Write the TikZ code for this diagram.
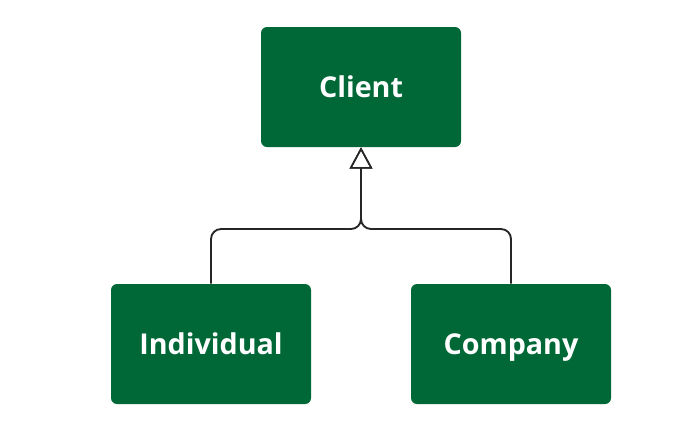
\documentclass[tikz,border=0pt]{standalone}
\usepackage{fontspec}
\setmainfont{Open Sans}
\usetikzlibrary{arrows.meta}
\definecolor{classgreen}{HTML}{006837}

\tikzset{
  classbox/.style={fill=classgreen, rounded corners=4.5pt, minimum width=150pt,
    minimum height=90pt, inner sep=0pt, text=white, text height=19pt,
    text depth=4pt, font=\fontsize{21.5}{24}\selectfont\bfseries},
  inherit/.style={draw=black!85, line width=1.4pt, rounded corners=7.5pt,
    -{Triangle[open, width=17pt, length=16pt, line width=1.2pt]}}
}

\begin{document}
\begin{tikzpicture}[x=0.75pt, y=-0.75pt]
  \useasboundingbox (0, 0) rectangle (682, 447);

  \node [classbox] (client) at (361, 87) {Client};
  \node [classbox] (individual) at (211, 344) {Individual};
  \node [classbox] (company) at (511, 344) {Company};

  \coordinate (join) at (361, 229);

  \draw [inherit] (individual.north) |- (join) -- (client.south);
  \draw [inherit] (company.north) |- (join) -- (client.south);
\end{tikzpicture}
\end{document}
